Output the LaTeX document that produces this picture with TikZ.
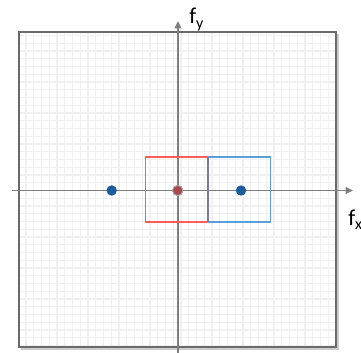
\documentclass[tikz,border=0pt]{standalone}
\usepackage{fontspec}
\setmainfont{Carlito}
\usetikzlibrary{arrows.meta}
\definecolor{gridc}{HTML}{F0F0F0}
\definecolor{framec}{HTML}{6A6A6A}
\definecolor{axisc}{HTML}{7F7F7F}
\definecolor{redc}{HTML}{FF5C5C}
\definecolor{bluec}{HTML}{5B9FD8}
\definecolor{edgec}{HTML}{7A78A8}
\definecolor{dotc}{HTML}{1B5C9E}
\definecolor{reddot}{HTML}{A84848}
\tikzset{
  gridline/.style={draw=gridc, line width=0.8pt},
  frame/.style={draw=framec, line width=1pt},
  axisline/.style={draw=axisc, line width=1.1pt, -{Triangle[length=5.5pt,width=5pt]}},
  rectbox/.style={draw, line width=1pt, minimum width=46.9pt, minimum height=48.8pt, inner sep=0pt, outer sep=0pt},
  bluedot/.style={circle, fill=dotc, minimum size=7.8pt, inner sep=0pt},
  lbl/.style={font=\fontsize{17}{17}\selectfont, inner sep=0pt, anchor=base west}
}
\newcommand{\sublbl}[1]{\raisebox{-3.5pt}{\fontsize{12}{12}\selectfont #1}}
\begin{document}
\begin{tikzpicture}[x=0.75pt, y=-0.75pt]
\useasboundingbox (0,0) rectangle (361,353);
\fill[white] (0,0) rectangle (361,353);
% grid
\foreach \k in {0,...,40} {
  \pgfmathsetmacro{\gx}{26+7.75*\k}
  \ifdim \gx pt<335pt
    \draw[gridline] (\gx,33) -- (\gx,346);
  \fi
  \pgfmathsetmacro{\gy}{35.5+7.75*\k}
  \ifdim \gy pt<346pt
    \draw[gridline] (20,\gy) -- (335,\gy);
  \fi
}
% frame shadow and frame
\draw[draw=black!20, line width=1pt] (21,349) -- (338,349) -- (338,34);
\draw[frame] (19,32) rectangle (336,347);
% axes
\coordinate (xs) at (12,190.5);
\coordinate (xe) at (353,190.5);
\coordinate (ys) at (178,353);
\coordinate (ye) at (178,21);
\draw[axisline] (xs) -- (xe);
\draw[axisline] (ys) -- (ye);
% rectangles
\node[rectbox, draw=redc] (red) at (176.5,189.5) {};
\node[rectbox, draw=bluec] (blue) at (239,189.5) {};
\draw[draw=edgec, line width=1.2pt] (red.north east) -- (red.south east);
% dots
\node[bluedot] (d1) at (111.7,190.5) {};
\node[bluedot] (d3) at (241,190.5) {};
\node[circle, fill=reddot, draw=gray!70, line width=0.8pt, minimum size=7.8pt, inner sep=0pt] (d2) at (177.7,190.5) {};
% labels
\node[lbl] (fy) at (189,24) {f\sublbl{y}};
\node[lbl] (fx) at (348,225) {f\sublbl{x}};
\end{tikzpicture}
\end{document}
